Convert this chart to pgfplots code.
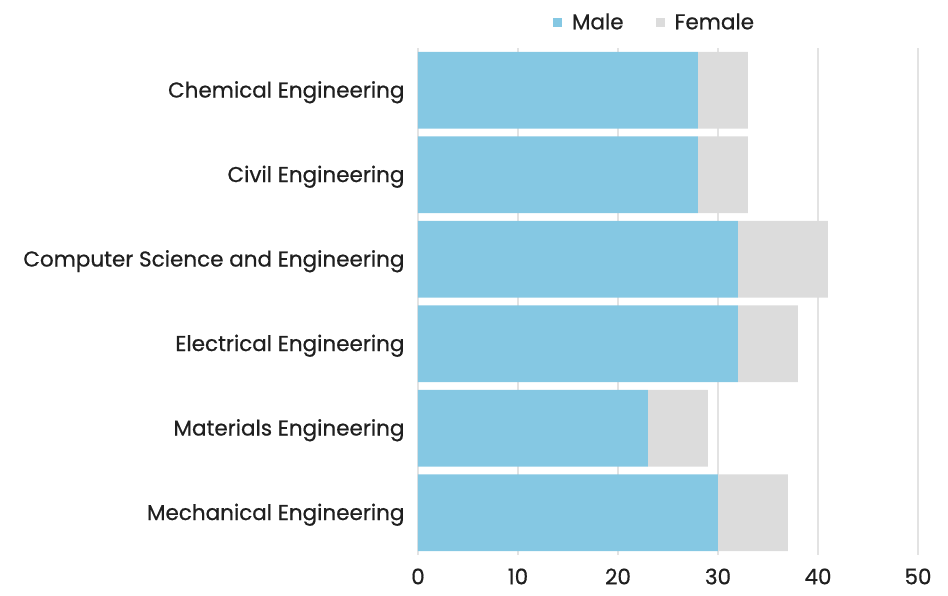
\documentclass[border=0pt]{standalone}
\usepackage{pgfplots}
\pgfplotsset{compat=1.18}
\usepackage{fontspec}
\setmainfont{Poppins}[FakeBold=0.6]
\definecolor{male}{HTML}{85C8E3}
\definecolor{female}{HTML}{DCDCDC}
\definecolor{gridcol}{HTML}{E3E3E3}
\begin{document}
\begin{tikzpicture}[x=1pt,y=1pt]
\useasboundingbox (-418,-40) rectangle (530,555);
\begin{axis}[
  at={(0,0)}, anchor=south west,
  scale only axis, width=500pt, height=507pt,
  xbar stacked, bar width=0.91,
  xmin=0, xmax=50, ymin=-0.5, ymax=5.5,
  y dir=reverse,
  ytick={0,1,2,3,4,5},
  yticklabels={Chemical Engineering,Civil Engineering,Computer Science and Engineering,Electrical Engineering,Materials Engineering,Mechanical Engineering},
  xtick={0,10,20,30,40,50},
  axis line style={draw=none},
  major tick length=0pt,
  xmajorgrids, grid style={draw=gridcol, line width=1.2pt},
  ymajorgrids=false,
  /pgf/number format/assume math mode=true,
  tick label style={font=\fontsize{21.5}{25}\selectfont, text=black!88},
  yticklabel style={xshift=-10pt, yshift=-2pt},
  xticklabel style={yshift=-10pt},
  legend columns=2,
  legend style={draw=none, at={(0.473,1.0)}, anchor=south, yshift=13pt,
    font=\fontsize{21.5}{25}\selectfont, text=black!88, column sep=8pt,
    /tikz/every even column/.append style={column sep=30pt}},
  legend image code/.code={\fill[#1] (0pt,-4.5pt) rectangle (9pt,4.5pt);},
]
\addplot[fill=male, draw=none] coordinates {(28,0) (28,1) (32,2) (32,3) (23,4) (30,5)};
\addplot[fill=female, draw=none] coordinates {(5,0) (5,1) (9,2) (6,3) (6,4) (7,5)};
\legend{Male,Female}
\end{axis}
\end{tikzpicture}
\end{document}
